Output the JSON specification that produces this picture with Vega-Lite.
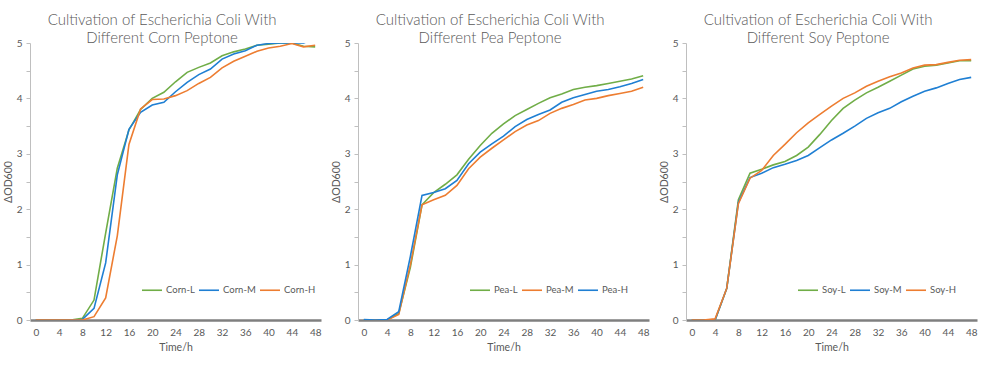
{
  "$schema": "https://vega.github.io/schema/vega-lite/v6.json",
  "padding": {"left": 3, "top": 13, "right": 5, "bottom": 5},
  "background": "white",
  "datasets": {
    "corn": [
      {"t":0,"Corn-L":0,"Corn-M":0,"Corn-H":0},
      {"t":2,"Corn-L":0,"Corn-M":0,"Corn-H":0},
      {"t":4,"Corn-L":0,"Corn-M":0,"Corn-H":0},
      {"t":6,"Corn-L":0,"Corn-M":0,"Corn-H":0},
      {"t":8,"Corn-L":0.03,"Corn-M":0.01,"Corn-H":0},
      {"t":10,"Corn-L":0.36,"Corn-M":0.21,"Corn-H":0.06},
      {"t":12,"Corn-L":1.57,"Corn-M":1.03,"Corn-H":0.4},
      {"t":14,"Corn-L":2.74,"Corn-M":2.62,"Corn-H":1.52},
      {"t":16,"Corn-L":3.43,"Corn-M":3.44,"Corn-H":3.17},
      {"t":18,"Corn-L":3.8,"Corn-M":3.75,"Corn-H":3.81},
      {"t":20,"Corn-L":4.0,"Corn-M":3.88,"Corn-H":3.98},
      {"t":22,"Corn-L":4.11,"Corn-M":3.93,"Corn-H":3.99},
      {"t":24,"Corn-L":4.3,"Corn-M":4.12,"Corn-H":4.05},
      {"t":26,"Corn-L":4.47,"Corn-M":4.29,"Corn-H":4.14},
      {"t":28,"Corn-L":4.56,"Corn-M":4.43,"Corn-H":4.27},
      {"t":30,"Corn-L":4.64,"Corn-M":4.53,"Corn-H":4.38},
      {"t":32,"Corn-L":4.77,"Corn-M":4.71,"Corn-H":4.55},
      {"t":34,"Corn-L":4.84,"Corn-M":4.8,"Corn-H":4.67},
      {"t":36,"Corn-L":4.89,"Corn-M":4.86,"Corn-H":4.76},
      {"t":38,"Corn-L":4.96,"Corn-M":4.96,"Corn-H":4.85},
      {"t":40,"Corn-L":4.98,"Corn-M":4.99,"Corn-H":4.91},
      {"t":42,"Corn-L":5.0,"Corn-M":5.0,"Corn-H":4.94},
      {"t":44,"Corn-L":5.0,"Corn-M":5.0,"Corn-H":4.99},
      {"t":46,"Corn-L":4.94,"Corn-M":5.0,"Corn-H":4.93},
      {"t":48,"Corn-L":4.93,"Corn-M":5.08,"Corn-H":4.96}
    ],
    "pea": [
      {"t":0,"Pea-L":0,"Pea-M":0,"Pea-H":0.01},
      {"t":2,"Pea-L":0,"Pea-M":0,"Pea-H":0},
      {"t":4,"Pea-L":0,"Pea-M":0,"Pea-H":0.01},
      {"t":6,"Pea-L":0.12,"Pea-M":0.1,"Pea-H":0.15},
      {"t":8,"Pea-L":0.95,"Pea-M":1.0,"Pea-H":1.15},
      {"t":10,"Pea-L":2.08,"Pea-M":2.08,"Pea-H":2.25},
      {"t":12,"Pea-L":2.3,"Pea-M":2.17,"Pea-H":2.3},
      {"t":14,"Pea-L":2.45,"Pea-M":2.25,"Pea-H":2.37},
      {"t":16,"Pea-L":2.62,"Pea-M":2.43,"Pea-H":2.52},
      {"t":18,"Pea-L":2.9,"Pea-M":2.73,"Pea-H":2.82},
      {"t":20,"Pea-L":3.15,"Pea-M":2.94,"Pea-H":3.03},
      {"t":22,"Pea-L":3.37,"Pea-M":3.1,"Pea-H":3.18},
      {"t":24,"Pea-L":3.54,"Pea-M":3.25,"Pea-H":3.32},
      {"t":26,"Pea-L":3.69,"Pea-M":3.4,"Pea-H":3.49},
      {"t":28,"Pea-L":3.8,"Pea-M":3.52,"Pea-H":3.62},
      {"t":30,"Pea-L":3.91,"Pea-M":3.6,"Pea-H":3.71},
      {"t":32,"Pea-L":4.01,"Pea-M":3.73,"Pea-H":3.79},
      {"t":34,"Pea-L":4.08,"Pea-M":3.82,"Pea-H":3.93},
      {"t":36,"Pea-L":4.16,"Pea-M":3.89,"Pea-H":4.01},
      {"t":38,"Pea-L":4.2,"Pea-M":3.97,"Pea-H":4.07},
      {"t":40,"Pea-L":4.23,"Pea-M":4.0,"Pea-H":4.13},
      {"t":42,"Pea-L":4.27,"Pea-M":4.05,"Pea-H":4.16},
      {"t":44,"Pea-L":4.31,"Pea-M":4.09,"Pea-H":4.21},
      {"t":46,"Pea-L":4.35,"Pea-M":4.13,"Pea-H":4.27},
      {"t":48,"Pea-L":4.41,"Pea-M":4.2,"Pea-H":4.34}
    ],
    "soy": [
      {"t":0,"Soy-L":0,"Soy-M":0,"Soy-H":0},
      {"t":2,"Soy-L":0,"Soy-M":0,"Soy-H":0},
      {"t":4,"Soy-L":0,"Soy-M":0,"Soy-H":0.02},
      {"t":6,"Soy-L":0.57,"Soy-M":0.57,"Soy-H":0.57},
      {"t":8,"Soy-L":2.17,"Soy-M":2.12,"Soy-H":2.1},
      {"t":10,"Soy-L":2.65,"Soy-M":2.57,"Soy-H":2.56},
      {"t":12,"Soy-L":2.72,"Soy-M":2.65,"Soy-H":2.7},
      {"t":14,"Soy-L":2.8,"Soy-M":2.75,"Soy-H":2.97},
      {"t":16,"Soy-L":2.86,"Soy-M":2.81,"Soy-H":3.17},
      {"t":18,"Soy-L":2.97,"Soy-M":2.88,"Soy-H":3.38},
      {"t":20,"Soy-L":3.12,"Soy-M":2.97,"Soy-H":3.56},
      {"t":22,"Soy-L":3.35,"Soy-M":3.11,"Soy-H":3.71},
      {"t":24,"Soy-L":3.6,"Soy-M":3.25,"Soy-H":3.86},
      {"t":26,"Soy-L":3.82,"Soy-M":3.37,"Soy-H":4.0},
      {"t":28,"Soy-L":3.97,"Soy-M":3.5,"Soy-H":4.1},
      {"t":30,"Soy-L":4.1,"Soy-M":3.64,"Soy-H":4.22},
      {"t":32,"Soy-L":4.2,"Soy-M":3.74,"Soy-H":4.31},
      {"t":34,"Soy-L":4.31,"Soy-M":3.82,"Soy-H":4.39},
      {"t":36,"Soy-L":4.42,"Soy-M":3.94,"Soy-H":4.46},
      {"t":38,"Soy-L":4.53,"Soy-M":4.04,"Soy-H":4.55},
      {"t":40,"Soy-L":4.58,"Soy-M":4.13,"Soy-H":4.6},
      {"t":42,"Soy-L":4.6,"Soy-M":4.19,"Soy-H":4.61},
      {"t":44,"Soy-L":4.64,"Soy-M":4.27,"Soy-H":4.65},
      {"t":46,"Soy-L":4.68,"Soy-M":4.34,"Soy-H":4.69},
      {"t":48,"Soy-L":4.68,"Soy-M":4.38,"Soy-H":4.7}
    ]
  },
  "config": {
    "font": "Lato",
    "view": {"stroke": null},
    "concat": {"spacing": 37},
    "title": {"font": "Lato", "fontSize": 15, "fontWeight": 300, "color": "#595959", "anchor": "middle", "frame": "bounds", "lineHeight": 18, "offset": -8},
    "axis": {"labelFont": "Lato", "titleFont": "Lato", "labelFontSize": 10, "titleFontSize": 10.5, "labelColor": "#595959", "titleColor": "#595959", "titleFontWeight": "normal", "grid": false},
    "axisX": {"domainColor": "#7f7f7f", "domainWidth": 2.4, "ticks": false, "labelPadding": 7, "titlePadding": 5, "labelAngle": 0},
    "axisY": {"domainColor": "#bfbfbf", "domainWidth": 1, "tickColor": "#bfbfbf", "tickSize": 4, "labelPadding": 4, "titlePadding": 3, "labelFlush": false},
    "legend": {"orient": "none", "legendX": 111, "legendY": 236, "direction": "horizontal", "title": null, "symbolType": "stroke", "symbolSize": 400, "symbolStrokeWidth": 1.6, "labelFont": "Lato", "labelFontSize": 9.5, "labelColor": "#595959", "labelOffset": 3, "columnPadding": 0, "padding": 0},
    "line": {"strokeWidth": 1.6}
  },
  "resolve": {"scale": {"color": "independent"}, "legend": {"color": "independent"}},
  "bounds": "flush",
  "hconcat": [
    {
      "width": 291, "height": 277,
      "title": {"text": ["Cultivation of Escherichia Coli With", "Different Corn Peptone"]},
      "data": {"name": "corn"},
      "transform": [{"fold": ["Corn-L", "Corn-M", "Corn-H"], "as": ["series", "value"]}],
      "mark": {"type": "line", "clip": true},
      "encoding": {
        "x": {"field": "t", "type": "quantitative", "scale": {"domain": [-1, 49], "nice": false, "zero": false}, "axis": {"values": [0,4,8,12,16,20,24,28,32,36,40,44,48], "title": "Time/h"}},
        "y": {"field": "value", "type": "quantitative", "scale": {"domain": [0, 5], "nice": false}, "axis": {"values": [0,0.5,1,1.5,2,2.5,3,3.5,4,4.5,5], "labelExpr": "datum.value % 1 === 0 ? format(datum.value, 'd') : ''", "title": "ΔOD600"}},
        "color": {"field": "series", "type": "nominal", "scale": {"domain": ["Corn-L", "Corn-M", "Corn-H"], "range": ["#70AD47", "#1F7FD3", "#ED7D31"]}}
      }
    },
    {
      "width": 291, "height": 277,
      "title": {"text": ["Cultivation of Escherichia Coli With", "Different Pea Peptone"]},
      "data": {"name": "pea"},
      "transform": [{"fold": ["Pea-L", "Pea-M", "Pea-H"], "as": ["series", "value"]}],
      "mark": {"type": "line", "clip": true},
      "encoding": {
        "x": {"field": "t", "type": "quantitative", "scale": {"domain": [-1, 49], "nice": false, "zero": false}, "axis": {"values": [0,4,8,12,16,20,24,28,32,36,40,44,48], "title": "Time/h"}},
        "y": {"field": "value", "type": "quantitative", "scale": {"domain": [0, 5], "nice": false}, "axis": {"values": [0,0.5,1,1.5,2,2.5,3,3.5,4,4.5,5], "labelExpr": "datum.value % 1 === 0 ? format(datum.value, 'd') : ''", "title": "ΔOD600"}},
        "color": {"field": "series", "type": "nominal", "scale": {"domain": ["Pea-L", "Pea-M", "Pea-H"], "range": ["#70AD47", "#ED7D31", "#1F7FD3"]}}
      }
    },
    {
      "width": 291, "height": 277,
      "title": {"text": ["Cultivation of Escherichia Coli With", "Different Soy Peptone"]},
      "data": {"name": "soy"},
      "transform": [{"fold": ["Soy-L", "Soy-M", "Soy-H"], "as": ["series", "value"]}],
      "mark": {"type": "line", "clip": true},
      "encoding": {
        "x": {"field": "t", "type": "quantitative", "scale": {"domain": [-1, 49], "nice": false, "zero": false}, "axis": {"values": [0,4,8,12,16,20,24,28,32,36,40,44,48], "title": "Time/h"}},
        "y": {"field": "value", "type": "quantitative", "scale": {"domain": [0, 5], "nice": false}, "axis": {"values": [0,0.5,1,1.5,2,2.5,3,3.5,4,4.5,5], "labelExpr": "datum.value % 1 === 0 ? format(datum.value, 'd') : ''", "title": "ΔOD600"}},
        "color": {"field": "series", "type": "nominal", "scale": {"domain": ["Soy-L", "Soy-M", "Soy-H"], "range": ["#70AD47", "#1F7FD3", "#ED7D31"]}}
      }
    }
  ]
}
